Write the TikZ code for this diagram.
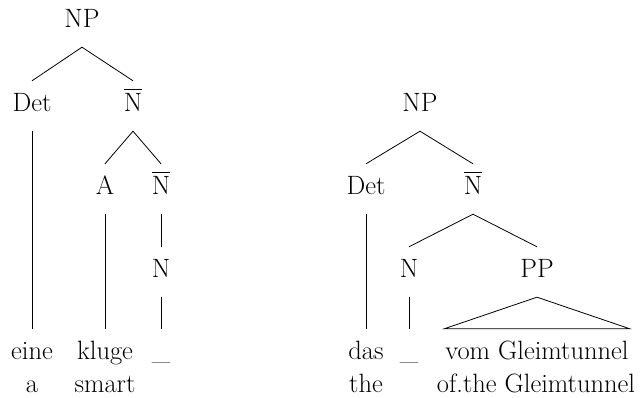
\documentclass[tikz,border=0pt]{standalone}
\newcommand\nbar{\leavevmode\vbox{\hrule height 1.1pt\kern 4pt\hbox{N}}}
\begin{document}
\begin{tikzpicture}[x=1pt,y=-1pt,
  lbl/.style={anchor=base,text height=18pt,text depth=6pt,inner ysep=13pt,inner xsep=1pt,font=\fontsize{26.5}{31}\selectfont},
  gloss/.style={anchor=base,inner sep=0pt,font=\fontsize{26.5}{31}\selectfont},
  edge/.style={line width=0.8pt}]
\useasboundingbox (0,0) rectangle (641,398);
% left tree
\node[lbl] (np1) at (82,28) {NP};
\node[lbl] (det1) at (32,112) {Det};
\node[lbl] (nb1) at (133,112) {\nbar};
\node[lbl] (a1) at (105,195) {A};
\node[lbl] (nb2) at (161,195) {\nbar};
\node[lbl] (n1) at (161,278) {N};
\node[lbl] (w1) at (32,360) {eine};
\node[lbl] (w2) at (105,360) {kluge};
\node[lbl] (w3) at (161,360) {\_};
\node[gloss] (g1) at (32,393) {a};
\node[gloss] (g2) at (105,393) {smart};
\draw[edge] (det1.north) -- (np1.south) -- (nb1.north);
\draw[edge] (det1.south) -- (w1.north);
\draw[edge] (a1.north) -- (nb1.south) -- (nb2.north);
\draw[edge] (a1.south) -- (w2.north);
\draw[edge] (nb2.south) -- (n1.north);
\draw[edge] (n1.south) -- (w3.north);
% right tree
\node[lbl] (np2) at (420,112) {NP};
\node[lbl] (det2) at (366,195) {Det};
\node[lbl] (nb3) at (473,195) {\nbar};
\node[lbl] (n2) at (409,278) {N};
\node[lbl] (pp) at (537,278) {PP};
\node[lbl] (w4) at (366,360) {das};
\node[lbl] (w5) at (409,360) {\_};
\node[lbl] (w6) at (537,360) {vom Gleimtunnel};
\node[gloss] (g3) at (366,393) {the};
\node[gloss] (g4) at (536,393) {of.the Gleimtunnel};
\draw[edge] (det2.north) -- (np2.south) -- (nb3.north);
\draw[edge] (det2.south) -- (w4.north);
\draw[edge] (n2.north) -- (nb3.south) -- (pp.north);
\draw[edge] (n2.south) -- (w5.north);
\draw[edge] (pp.south) -- (w6.north east) -- (w6.north west) -- cycle;
\end{tikzpicture}
\end{document}
